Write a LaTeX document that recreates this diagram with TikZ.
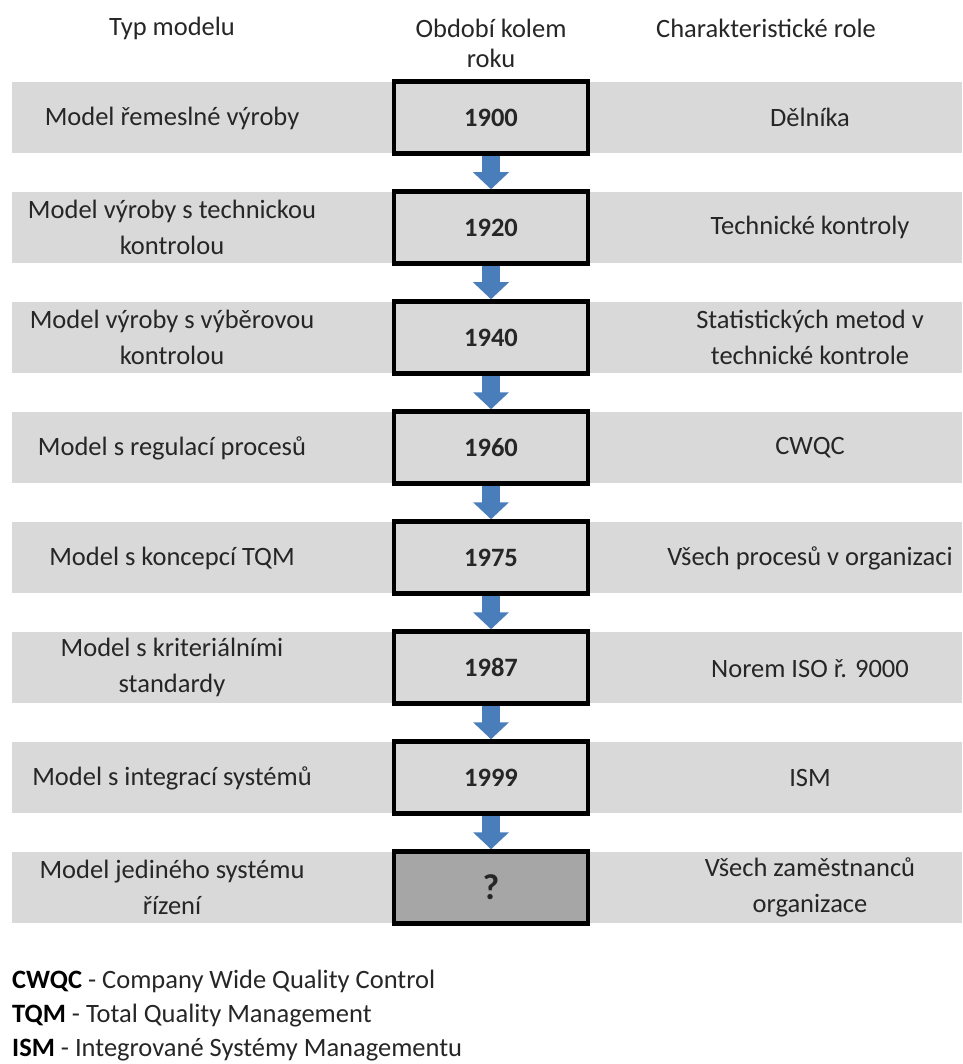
\documentclass[tikz,border=0pt]{standalone}
\usepackage{fontspec}
\setmainfont{Carlito}
\usetikzlibrary{arrows.meta,calc}
\definecolor{band}{HTML}{D9D9D9}
\definecolor{boxdark}{HTML}{A6A6A6}
\definecolor{flow}{HTML}{4A7EBB}
\definecolor{ink}{HTML}{262626}

\begin{document}
\begin{tikzpicture}[x=1pt,y=-1pt,
  lbl/.style={font=\fontsize{26.5}{36}\selectfont, text=ink, align=center, inner sep=0pt},
  yearbox/.style={draw=black, line width=4.5pt, fill=band, minimum width=194pt,
    minimum height=72pt, inner sep=0pt, text=ink,
    font=\fontsize{26.5}{32}\selectfont\bfseries},
  flowarrow/.style={draw=flow, line width=18pt,
    -{Triangle[width=35pt,length=17pt]}},
  rowband/.style={fill=band}
]
\useasboundingbox (0,0) rectangle (962,1064);

% column headings
\node[lbl, font=\fontsize{26.5}{30}\selectfont] (h1) at (172,28) {Typ modelu};
\node[lbl, font=\fontsize{26.5}{30}\selectfont] (h2) at (491,43) {Období kolem\\roku};
\node[lbl, font=\fontsize{26.5}{30}\selectfont] (h3) at (766,28) {Charakteristické role};

% grey row bands
\foreach \i in {0,...,7}{
  \fill[rowband] (12,{117.5+110*\i-35.5}) rectangle (962,{117.5+110*\i+35.5});
}

% model types
\node[lbl] (l1) at (172,118.5) {Model řemeslné výroby};
\node[lbl] (l2) at (172,227.5) {Model výroby s technickou\\kontrolou};
\node[lbl] (l3) at (172,337.5) {Model výroby s výběrovou\\kontrolou};
\node[lbl] (l4) at (172,448.5) {Model s regulací procesů};
\node[lbl] (l5) at (172,558.5) {Model s koncepcí TQM};
\node[lbl] (l6) at (172,667.5) {Model s kriteriálními\\standardy};
\node[lbl] (l7) at (172,778.5) {Model s integrací systémů};
\node[lbl] (l8) at (172,887.5) {Model jediného systému\\řízení};

% years
\node[yearbox] (b1) at (491,117.5) {1900};
\node[yearbox] (b2) at (491,227.5) {1920};
\node[yearbox] (b3) at (491,337.5) {1940};
\node[yearbox] (b4) at (491,447.5) {1960};
\node[yearbox] (b5) at (491,557.5) {1975};
\node[yearbox] (b6) at (491,667.5) {1987};
\node[yearbox] (b7) at (491,777.5) {1999};
\node[yearbox, fill=boxdark, font=\fontsize{36}{40}\selectfont\bfseries] (b8) at (491,887.5) {?};

% roles
\node[lbl] (r1) at (810,117.5) {Dělníka};
\node[lbl] (r2) at (810,227.5) {Technické kontroly};
\node[lbl] (r3) at (810,337.5) {Statistických metod v\\technické kontrole};
\node[lbl] (r4) at (810,447.5) {CWQC};
\node[lbl] (r5) at (810,558.5) {Všech procesů v organizaci};
\node[lbl] (r6) at (810,668.5) {Norem ISO ř. 9000};
\node[lbl] (r7) at (810,777.5) {ISM};
\node[lbl] (r8) at (810,887.5) {Všech zaměstnanců\\organizace};

% timeline arrows
\foreach \a/\b in {b1/b2,b2/b3,b3/b4,b4/b5,b5/b6,b6/b7,b7/b8}{
  \draw[flowarrow] (\a.south) -- (\b.north);
}

% abbreviations
\node[lbl, anchor=base west] (k1) at (12,988.5) {\textcolor{black}{\textbf{CWQC}} - Company Wide Quality Control};
\node[lbl, anchor=base west] (k2) at (12,1022.5) {\textcolor{black}{\textbf{TQM}} - Total Quality Management};
\node[lbl, anchor=base west] (k3) at (12,1056.5) {\textcolor{black}{\textbf{ISM}} - Integrované Systémy Managementu};
\end{tikzpicture}
\end{document}
